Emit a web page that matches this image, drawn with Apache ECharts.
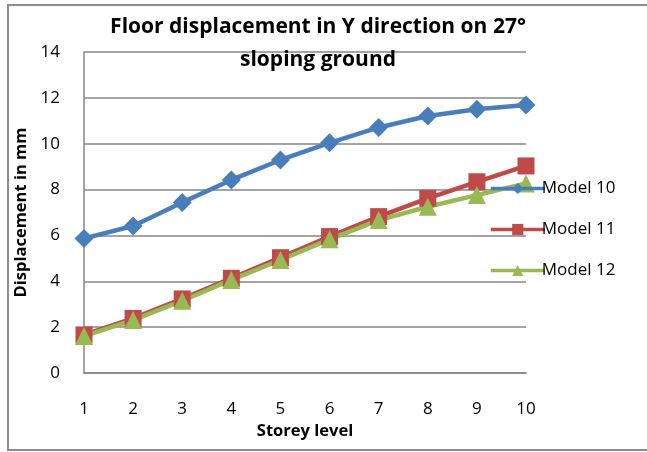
<!DOCTYPE html>
<html><head><meta charset="utf-8">
<script src="https://cdn.jsdelivr.net/npm/echarts@6/dist/echarts.min.js"></script>
<style>html,body{margin:0;padding:0;background:#fff}#c{width:647px;height:452px}</style>
</head><body><div id="c"></div>
<script>
var categories = ['1','2','3','4','5','6','7','8','9','10'];
var model10 = [5.87, 6.41, 7.44, 8.42, 9.29, 10.04, 10.71, 11.21, 11.5, 11.69];
var model11 = [1.66, 2.38, 3.23, 4.13, 5.03, 5.95, 6.82, 7.62, 8.34, 9.03];
var model12 = [1.61, 2.31, 3.15, 4.06, 4.93, 5.83, 6.67, 7.25, 7.76, 8.27];
var seriesNames = ['Model 10', 'Model 11', 'Model 12'];
var titleText = 'Floor displacement in Y direction on 27°\nsloping ground';
var xName = 'Storey level';
var yName = 'Displacement in mm';

var FONT = '"Open Sans", "Liberation Sans", sans-serif';
var chart = echarts.init(document.getElementById('c'), null, {renderer: 'canvas'});
function mk(name, data, color, symbol, size) {
  return {
    name: name, type: 'line', data: data, symbol: symbol, symbolSize: size,
    lineStyle: {color: color, width: 4.5}, itemStyle: {color: color},
    emphasis: {disabled: true}, animation: false, z: 3
  };
}
chart.setOption({
  animation: false,
  backgroundColor: '#fff',
  graphic: [{type: 'rect', shape: {x: 8, y: 5, width: 640, height: 445},
    style: {fill: 'none', stroke: '#8c8c8c', lineWidth: 2}, silent: true, z: -1}],
  title: {
    text: titleText, left: 313, top: 6, textAlign: 'center',
    textStyle: {fontFamily: FONT, fontWeight: 'bold', fontSize: 21, color: '#000', lineHeight: 33}
  },
  legend: {
    orient: 'vertical', left: 484, top: 175, itemWidth: 54, itemHeight: 14, itemGap: 24,
    data: seriesNames,
    lineStyle: {width: 3.5},
    textStyle: {fontFamily: FONT, fontSize: 17, color: '#000', padding: [0, 0, 0, -8]}
  },
  grid: {left: 84, right: 121, top: 52, bottom: 79, containLabel: false},
  xAxis: {
    type: 'category', data: categories, boundaryGap: false,
    name: xName, nameLocation: 'middle', nameGap: 46,
    nameTextStyle: {fontFamily: FONT, fontWeight: 'bold', fontSize: 16.5, color: '#000'},
    axisLine: {lineStyle: {color: '#868686', width: 1.5}},
    axisTick: {show: false},
    axisLabel: {fontFamily: FONT, fontSize: 17, color: '#000', margin: 28}
  },
  yAxis: {
    type: 'value', min: 0, max: 14, interval: 2,
    name: yName, nameLocation: 'middle', nameGap: 49, nameRotate: 90,
    nameTextStyle: {fontFamily: FONT, fontWeight: 'bold', fontSize: 16.5, color: '#000'},
    axisLine: {show: true, lineStyle: {color: '#868686', width: 1.5}},
    axisTick: {show: false},
    splitLine: {lineStyle: {color: '#868686', width: 1.5}},
    axisLabel: {fontFamily: FONT, fontSize: 17, color: '#000', margin: 24}
  },
  series: [
    mk(seriesNames[0], model10, '#4a7ebb', 'diamond', 19),
    mk(seriesNames[1], model11, '#be4b48', 'rect', 17),
    mk(seriesNames[2], model12, '#98b954', 'triangle', 18)
  ]
});
</script></body></html>
